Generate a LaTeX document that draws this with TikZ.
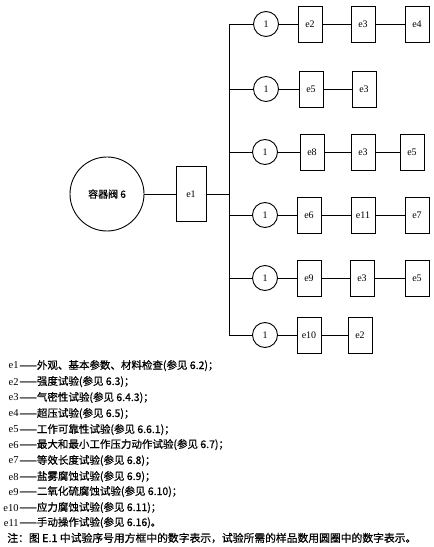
\documentclass[tikz,border=0pt]{standalone}
\usepackage{fontspec}
\setmainfont{Liberation Serif}
\newfontfamily\cjk[FakeBold=0.6]{Noto Sans CJK SC}
\tikzset{
  bx/.style={draw,line width=.9bp,minimum width=24bp,minimum height=36bp,inner sep=0pt,font=\fontsize{10bp}{10bp}\selectfont},
  cc/.style={draw,circle,line width=.9bp,minimum size=25bp,inner sep=0pt,font=\fontsize{10bp}{10bp}\selectfont},
  vl/.style={draw,circle,line width=.9bp,minimum size=74bp,inner sep=0pt,font=\cjk\fontsize{10bp}{10bp}\selectfont},
  lg/.style={anchor=base west,inner sep=0pt,font=\cjk\fontsize{10.5bp}{12bp}\selectfont,
    label={[inner sep=0pt,font=\fontsize{10.5bp}{12bp}\selectfont]left:#1}},
  nt/.style={anchor=base west,inner sep=0pt,font=\cjk\fontsize{10.8bp}{12bp}\selectfont}
}
\begin{document}
\begin{tikzpicture}[x=1bp,y=-1bp,line width=.7bp]
    \useasboundingbox (0,0) rectangle (434,547);
    \node[vl] (V) at (107,194) {容器阀 6};
    \node[bx,minimum width=30bp,minimum height=55bp] (E1) at (191,194) {e1};
    \coordinate (T) at (229,0);
    % sample rows
    \node[cc] (C1) at (266,24) {1};
    \node[bx] (B11) at (310,24) {e2};
    \node[bx] (B12) at (363,24) {e3};
    \node[bx] (B13) at (417,24) {e4};
    \node[cc] (C2) at (266,89) {1};
    \node[bx] (B21) at (311,89) {e5};
    \node[bx] (B22) at (364,89) {e3};
    \node[cc] (C3) at (265,152) {1};
    \node[bx] (B31) at (312,152) {e8};
    \node[bx] (B32) at (363,152) {e3};
    \node[bx] (B33) at (412,152) {e5};
    \node[cc] (C4) at (265,215) {1};
    \node[bx] (B41) at (309,215) {e6};
    \node[bx] (B42) at (363,215) {e11};
    \node[bx] (B43) at (417,215) {e7};
    \node[cc] (C5) at (265,278) {1};
    \node[bx] (B51) at (309,278) {e9};
    \node[bx] (B52) at (362,278) {e3};
    \node[bx] (B53) at (417,278) {e5};
    \node[cc] (C6) at (265,335) {1};
    \node[bx] (B61) at (309,335) {e10};
    \node[bx] (B62) at (360,335) {e2};
    \draw (V) -- (E1) -- (E1-|T);
    \draw (T|-C1) -- (T|-C6);
    \draw (T|-C1) -- (C1) -- (B11) -- (B12) -- (B13);
    \draw (T|-C2) -- (C2) -- (B21) -- (B22);
    \draw (T|-C3) -- (C3) -- (B31) -- (B32) -- (B33);
    \draw (T|-C4) -- (C4) -- (B41) -- (B42) -- (B43);
    \draw (T|-C5) -- (C5) -- (B51) -- (B52) -- (B53);
    \draw (T|-C6) -- (C6) -- (B61) -- (B62);
    % key
    \node[lg=e1] (K1) at (19,369) {——外观、基本参数、材料检查(参见 6.2)；};
    \node[lg=e2] (K2) at (19,385) {——强度试验(参见 6.3)；};
    \node[lg=e3] (K3) at (19,401) {——气密性试验(参见 6.4.3)；};
    \node[lg=e4] (K4) at (19,417) {——超压试验(参见 6.5)；};
    \node[lg=e5] (K5) at (19,433) {——工作可靠性试验(参见 6.6.1)；};
    \node[lg=e6] (K6) at (19,448) {——最大和最小工作压力动作试验(参见 6.7)；};
    \node[lg=e7] (K7) at (19,464) {——等效长度试验(参见 6.8)；};
    \node[lg=e8] (K8) at (19,480) {——盐雾腐蚀试验(参见 6.9)；};
    \node[lg=e9] (K9) at (19,495) {——二氧化硫腐蚀试验(参见 6.10)；};
    \node[lg=e10] (K10) at (19,511) {——应力腐蚀试验(参见 6.11)；};
    \node[lg=e11] (K11) at (19,526) {——手动操作试验(参见 6.16)。};
    \node[nt] (N) at (7,542) {注：图 E.1 中试验序号用方框中的数字表示，试验所需的样品数用圆圈中的数字表示。};
\end{tikzpicture}
\end{document}
